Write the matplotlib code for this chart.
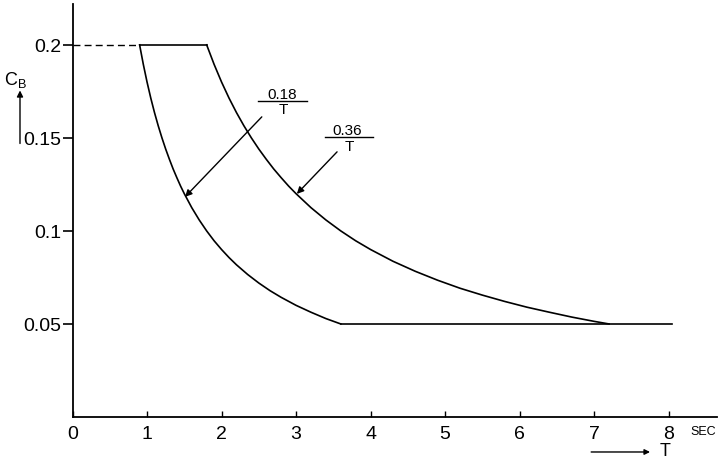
import numpy as np
import matplotlib.pyplot as plt
from matplotlib.ticker import FixedLocator

# values (T in sec, C_B)
t_low = [0.9, 0.95, 1.0, 1.05, 1.1, 1.15, 1.2, 1.25, 1.3, 1.35, 1.4, 1.45, 1.5,
         1.6, 1.7, 1.8, 1.9, 2.0, 2.1, 2.2, 2.35, 2.5, 2.65, 2.8, 3.0, 3.2, 3.4, 3.6]
c_low = [0.200, 0.1895, 0.180, 0.1714, 0.1636, 0.1565, 0.150, 0.144, 0.1385,
         0.1333, 0.1286, 0.1241, 0.120, 0.1125, 0.1059, 0.100, 0.0947, 0.090,
         0.0857, 0.0818, 0.0766, 0.072, 0.0679, 0.0643, 0.060, 0.0563, 0.0529, 0.050]
t_high = [1.8, 1.9, 2.0, 2.1, 2.2, 2.3, 2.4, 2.5, 2.6, 2.7, 2.8, 2.9, 3.0, 3.2,
          3.4, 3.6, 3.8, 4.0, 4.3, 4.6, 4.9, 5.2, 5.5, 5.8, 6.1, 6.4, 6.7, 7.0, 7.2]
c_high = [0.200, 0.1895, 0.180, 0.1714, 0.1636, 0.1565, 0.150, 0.144, 0.1385,
          0.1333, 0.1286, 0.1241, 0.120, 0.1125, 0.1059, 0.100, 0.0947, 0.090,
          0.0837, 0.0783, 0.0735, 0.0692, 0.0655, 0.0621, 0.059, 0.0563, 0.0537,
          0.0514, 0.050]
t_top = [0.9, 1.8]
c_top = [0.2, 0.2]
t_floor = [3.6, 8.05]
c_floor = [0.05, 0.05]
t_dash = [0.0, 0.9]

x_ticks = [0, 1, 2, 3, 4, 5, 6, 7, 8]
y_ticks = [0.05, 0.1, 0.15, 0.2]
y_labels = ["0.05", "0.1", "0.15", "0.2"]

plt.rcParams['font.family'] = ['Liberation Sans Narrow', 'Liberation Sans', 'DejaVu Sans']

fig = plt.figure(figsize=(7.21, 4.60), dpi=100)
ax = fig.add_axes([0.1006, 0.0913, 0.894, 0.898])

lw = 1.2
ax.plot(t_low, c_low, color="black", linewidth=lw)
ax.plot(t_high, c_high, color="black", linewidth=lw)
ax.plot(t_top, c_top, color="black", linewidth=lw)
ax.plot(t_floor, c_floor, color="black", linewidth=lw)
ax.plot(t_dash, c_top, color="black", linewidth=1.0, linestyle=(0, (5, 3)))

ax.set_xlim(0, 8.65)
ax.set_ylim(0, 0.222)
ax.spines['top'].set_visible(False)
ax.spines['right'].set_visible(False)
ax.spines['left'].set_linewidth(1.3)
ax.spines['bottom'].set_linewidth(1.3)

ax.xaxis.set_major_locator(FixedLocator(x_ticks))
ax.set_xticklabels([str(v) for v in x_ticks])
ax.set_yticks(y_ticks)
ax.set_yticklabels(y_labels)
ax.tick_params(axis='x', direction='in', length=4, width=1, pad=6, labelsize=14)
ax.tick_params(axis='y', direction='out', length=7, width=1.2, pad=1, labelsize=14)

# formula labels with leader arrows
ax.text(2.82, 0.1735, "0.18", ha='center', va='center', fontsize=11)
ax.plot([2.49, 3.15], [0.170, 0.170], color="black", linewidth=1.0)
ax.text(2.83, 0.1655, "T", ha='center', va='center', fontsize=11)
ax.annotate("", xy=(1.51, 0.1183), xytext=(2.54, 0.1613),
            arrowprops=dict(arrowstyle='-|>', color='black', lw=1.0,
                            mutation_scale=10, shrinkA=0, shrinkB=0))

ax.text(3.69, 0.1543, "0.36", ha='center', va='center', fontsize=11)
ax.plot([3.39, 4.03], [0.1505, 0.1505], color="black", linewidth=1.0)
ax.text(3.72, 0.1455, "T", ha='center', va='center', fontsize=11)
ax.annotate("", xy=(3.01, 0.1199), xytext=(3.55, 0.1425),
            arrowprops=dict(arrowstyle='-|>', color='black', lw=1.0,
                            mutation_scale=10, shrinkA=0, shrinkB=0))

# axis names
ax.text(-0.77, 0.1815, r"C$_\mathregular{B}$", ha='center', va='center',
        fontsize=13, clip_on=False)
ax.annotate("", xy=(-0.705, 0.1755), xytext=(-0.705, 0.147),
            arrowprops=dict(arrowstyle='-|>', color='black', lw=1.0,
                            mutation_scale=9, shrinkA=0, shrinkB=0),
            annotation_clip=False)

ax.text(8.47, -0.0075, "SEC", ha='center', va='center', fontsize=9, clip_on=False)
ax.annotate("", xy=(7.75, -0.0188), xytext=(6.96, -0.0188),
            arrowprops=dict(arrowstyle='-|>', color='black', lw=1.0,
                            mutation_scale=8, shrinkA=0, shrinkB=0),
            annotation_clip=False)
ax.text(7.95, -0.0178, "T", ha='center', va='center', fontsize=13, clip_on=False)

fig.savefig("out.png", dpi=100)
